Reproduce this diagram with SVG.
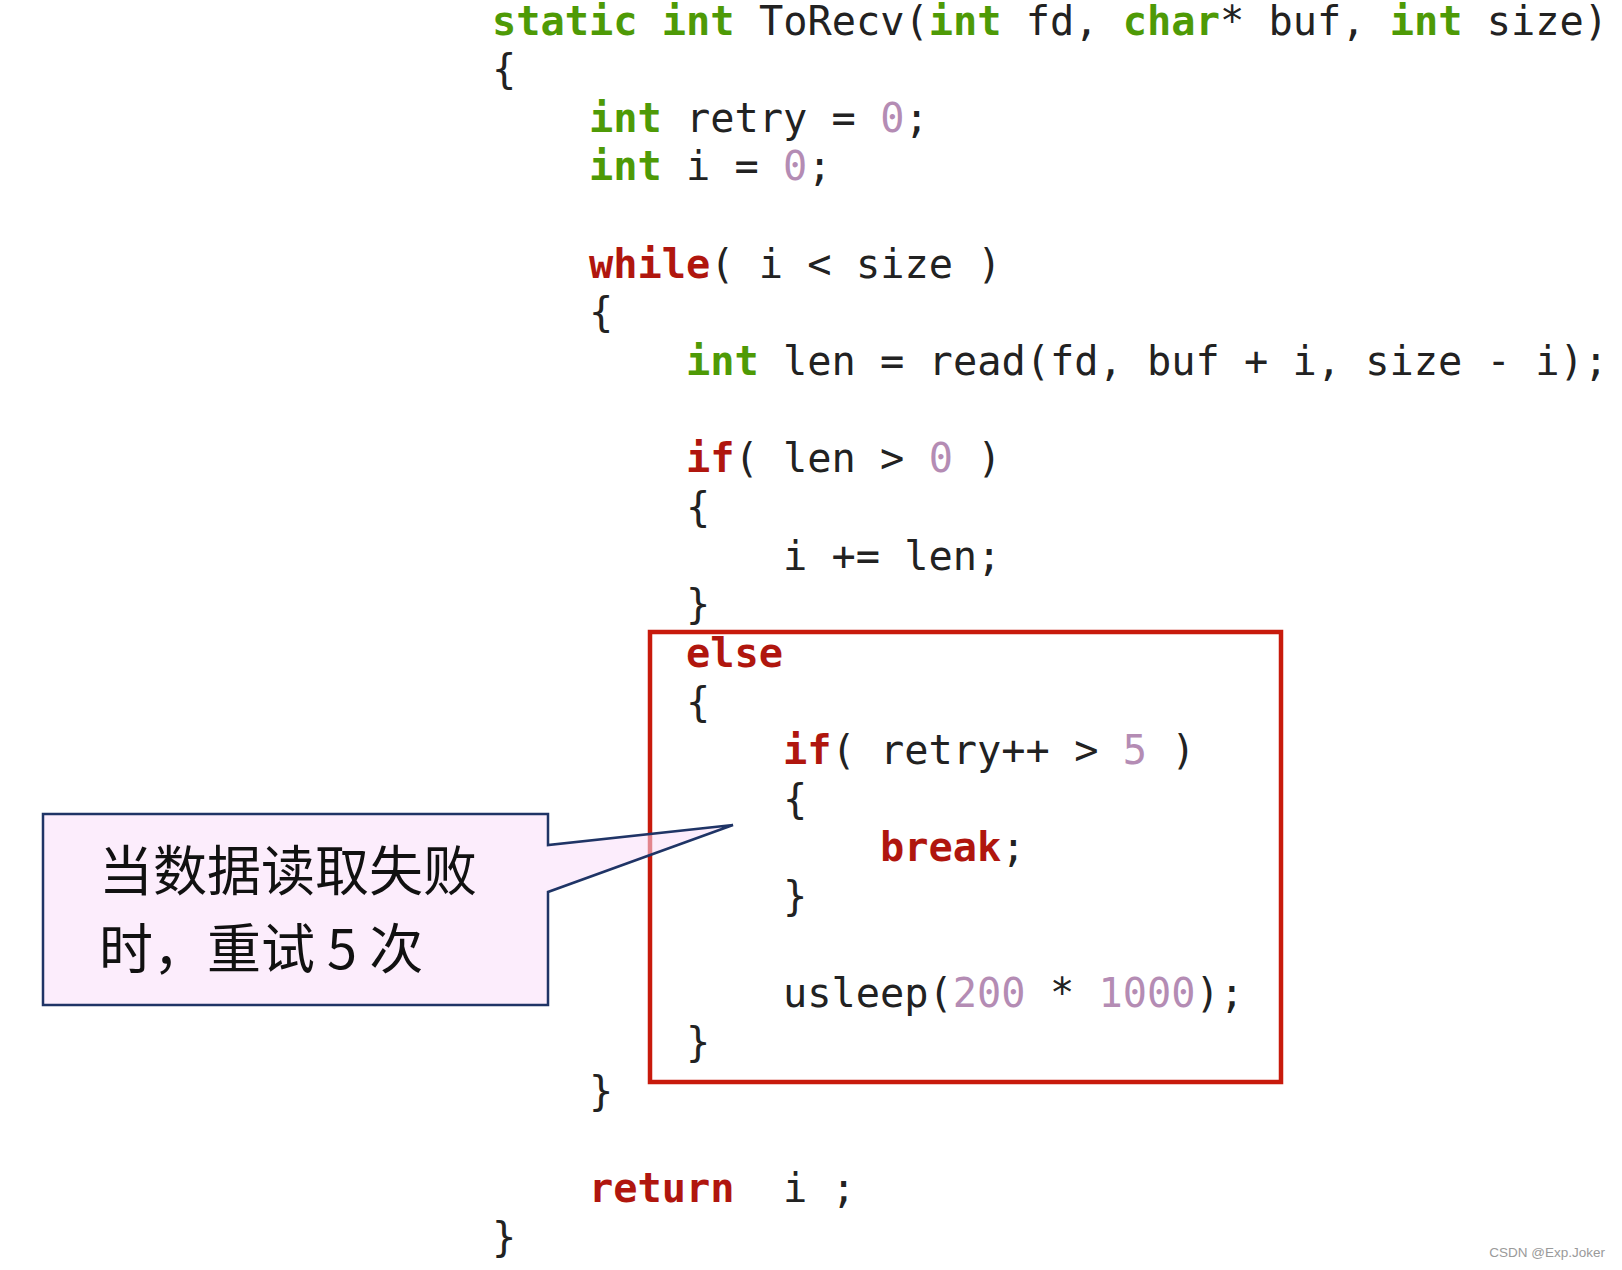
<svg xmlns="http://www.w3.org/2000/svg" width="1622" height="1270" viewBox="0 0 1622 1270">
<style>
.c{font-family:"DejaVu Sans Mono","Liberation Mono",monospace;font-size:40.3px;fill:#222222}
.k{font-weight:bold;fill:#B0160E}
.t{font-weight:bold;fill:#4E9A06}
.n{fill:#B48CB4}
.cj{font-family:"Noto Sans CJK SC","Noto Sans",sans-serif;font-size:54px;fill:#111111}
.wm{font-family:"Liberation Sans",Arial,sans-serif;font-size:13.5px;fill:#9a9a9a}
</style>
<rect width="1622" height="1270" fill="#ffffff"/>
<g id="code" class="c">
<text xml:space="preserve" x="492" y="34.5"><tspan class="t">static</tspan> <tspan class="t">int</tspan> ToRecv(<tspan class="t">int</tspan> fd, <tspan class="t">char</tspan>* buf, <tspan class="t">int</tspan> size)</text>
<text xml:space="preserve" x="492" y="83.1">{</text>
<text xml:space="preserve" x="589" y="131.8"><tspan class="t">int</tspan> retry = <tspan class="n">0</tspan>;</text>
<text xml:space="preserve" x="589" y="180.4"><tspan class="t">int</tspan> i = <tspan class="n">0</tspan>;</text>
<text xml:space="preserve" x="589" y="277.7"><tspan class="k">while</tspan>( i &lt; size )</text>
<text xml:space="preserve" x="589" y="326.3">{</text>
<text xml:space="preserve" x="686" y="375"><tspan class="t">int</tspan> len = read(fd, buf + i, size - i);</text>
<text xml:space="preserve" x="686" y="472.3"><tspan class="k">if</tspan>( len &gt; <tspan class="n">0</tspan> )</text>
<text xml:space="preserve" x="686" y="520.9">{</text>
<text xml:space="preserve" x="783" y="569.5">i += len;</text>
<text xml:space="preserve" x="686" y="618.2">}</text>
<text xml:space="preserve" x="686" y="666.8"><tspan class="k">else</tspan></text>
<text xml:space="preserve" x="686" y="715.5">{</text>
<text xml:space="preserve" x="783" y="764.1"><tspan class="k">if</tspan>( retry++ &gt; <tspan class="n">5</tspan> )</text>
<text xml:space="preserve" x="783" y="812.7">{</text>
<text xml:space="preserve" x="880" y="861.4"><tspan class="k">break</tspan>;</text>
<text xml:space="preserve" x="783" y="910">}</text>
<text xml:space="preserve" x="783" y="1007.3">usleep(<tspan class="n">200</tspan> * <tspan class="n">1000</tspan>);</text>
<text xml:space="preserve" x="686" y="1055.9">}</text>
<text xml:space="preserve" x="589" y="1104.6">}</text>
<text xml:space="preserve" x="589" y="1201.9"><tspan class="k">return</tspan>&#160; i ;</text>
<text xml:space="preserve" x="492" y="1250.5">}</text>
</g>
<g id="else-highlight">
<rect x="650" y="632" width="631" height="450" fill="none" stroke="#C81A0C" stroke-width="4.5"/>
</g>
<g id="callout">
<path d="M43,814 L548,814 L548,845 L733,825 L548,892 L548,1005 L43,1005 Z" fill="#FADFFA" fill-opacity="0.55" stroke="#1F3466" stroke-width="2.5" stroke-linejoin="miter"/>
<text class="cj" x="99" y="891">当数据读取失败</text>
<text class="cj" x="99" y="969">时，重试 5 次</text>
</g>
<g id="connectors"></g>
<text class="wm" x="1605" y="1257" text-anchor="end">CSDN @Exp.Joker</text>
</svg>
